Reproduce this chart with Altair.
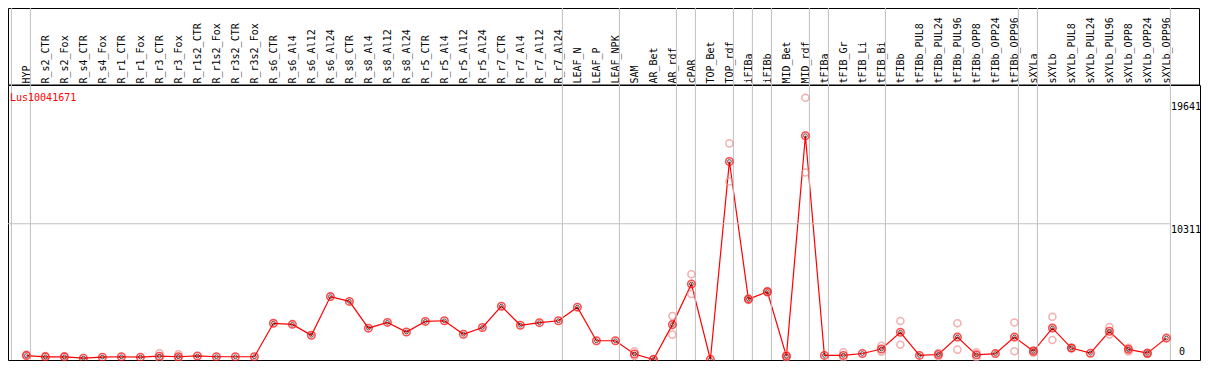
import altair as alt
import pandas as pd

gene = "Lus10041671"

names = ["HYP", "R_s2_CTR", "R_s2_Fox", "R_s4_CTR", "R_s4_Fox", "R_r1_CTR", "R_r1_Fox",
         "R_r3_CTR", "R_r3_Fox", "R_r1s2_CTR", "R_r1s2_Fox", "R_r3s2_CTR", "R_r3s2_Fox",
         "R_s6_CTR", "R_s6_Al4", "R_s6_Al12", "R_s6_Al24", "R_s8_CTR", "R_s8_Al4",
         "R_s8_Al12", "R_s8_Al24", "R_r5_CTR", "R_r5_Al4", "R_r5_Al12", "R_r5_Al24",
         "R_r7_CTR", "R_r7_Al4", "R_r7_Al12", "R_r7_Al24", "LEAF_N", "LEAF_P", "LEAF_NPK",
         "SAM", "AR_Bet", "AR_rdf", "cPAR", "TOP_Bet", "TOP_rdf", "iFIBa", "iFIBb",
         "MID_Bet", "MID_rdf", "tFIBa", "tFIB_Gr", "tFIB_Li", "tFIB_Bi", "tFIBb",
         "tFIBb_PUL8", "tFIBb_PUL24", "tFIBb_PUL96", "tFIBb_OPP8", "tFIBb_OPP24",
         "tFIBb_OPP96", "sXYLa", "sXYLb", "sXYLb_PUL8", "sXYLb_PUL24", "sXYLb_PUL96",
         "sXYLb_OPP8", "sXYLb_OPP24", "sXYLb_OPP96"]

means = [300, 200, 200, 100, 180, 210, 180, 250, 210, 270, 210, 210, 210,
         2750, 2670, 1840, 4780, 4415, 2380, 2820, 2090,
         2895, 2945, 1920, 2430, 4050, 2600, 2800, 2945,
         3975, 1425, 1425,
         420, 0, 2650, 5740, 0,
         15040, 4585, 5150, 250, 17000,
         310, 310, 455, 795, 2070,
         310, 380, 1705, 355, 450, 1705,
         625, 2390, 870, 480, 2145, 770, 480, 1625]

rep_idx = [0, 1, 2, 7, 7, 8, 8, 32, 32, 33, 34, 34, 35, 35, 37, 37, 38, 38, 39, 39,
           40, 40, 41, 41, 43, 43, 45, 45, 46, 46, 48, 48, 49, 49, 50, 50, 52, 52,
           53, 53, 54, 54, 55, 55, 57, 57, 58, 58, 59, 59]
rep_val = [380, 260, 240, 470, 100, 400, 120, 625, 260, 30, 3310, 1890, 6470, 4975,
           16415, 13525, 4650, 4520, 5200, 5100, 350, 150, 19880, 14210, 550, 150,
           1045, 600, 2930, 1120, 500, 250, 2760, 750, 540, 170, 2810, 625, 700, 520,
           3245, 1485, 850, 900, 2465, 1900, 620, 900, 520, 420]

group_starts = [0, 1, 29, 32, 35, 36, 38, 39, 40, 42, 43, 46, 53, 54, 61]
sep_offset = 0.7895

y_ticks = [19641, 10311, 0]
grid_val = [10311]

W = 1192
H = 275
HEADER = 77
xmin = -0.96842
xmax = 61.76842
ymin = -37
ymax = 20850
mono = "DejaVu Sans Mono"

xs = alt.Scale(domain=[xmin, xmax], nice=False, zero=False)
ys = alt.Scale(domain=[ymin, ymax], nice=False, zero=False)

df = pd.DataFrame({"i": list(range(len(names))), "name": names, "v": means})
reps = pd.DataFrame({"i": rep_idx, "v": rep_val})
seps = pd.DataFrame({"i": [k - sep_offset for k in group_starts]})
grid = pd.DataFrame({"v": grid_val, "i": [xmin], "b": [group_starts[-1] - sep_offset]})
ylab = pd.DataFrame({"v": y_ticks, "t": [str(t) for t in y_ticks]})
ttl = pd.DataFrame({"t": [gene]})

label_expr = "[" + ",".join("'" + n + "'" for n in names) + "][datum.value]"

xaxis = alt.Axis(orient="top", values=list(range(len(names))), labelExpr=label_expr,
                 labelAngle=270, labelFont=mono, labelFontSize=10, labelColor="black",
                 labelPadding=2, ticks=False, domain=False, grid=False, title=None,
                 labelOverlap=False, labelFlush=False, labelBound=False)


def X(field="i:Q"):
    return alt.X(field, scale=xs, axis=xaxis)


def Y(field="v:Q"):
    return alt.Y(field, scale=ys, axis=None)


frame = alt.Chart(ttl).mark_rect(fillOpacity=0, stroke="black", strokeWidth=1).encode(
    x=alt.value(0.5), x2=alt.value(W - 0.5), y=alt.value(-HEADER + 0.5), y2=alt.value(0)
)

sep_rules = alt.Chart(seps).mark_rule(color="#c0c0c0", strokeWidth=1).encode(
    x=X(), y=alt.value(-HEADER), y2=alt.value(H)
)

grid_rule = alt.Chart(grid).mark_rule(color="#c0c0c0", strokeWidth=1).encode(
    x=X(), x2="b:Q", y=Y()
)

line = alt.Chart(df).mark_line(color="#ff0000", strokeWidth=1.2).encode(x=X(), y=Y())

rep_pts = alt.Chart(reps).mark_point(shape="circle", size=50, color="#ee8f8f",
                                     strokeWidth=1.5, filled=False).encode(x=X(), y=Y())

mean_outer = alt.Chart(df).mark_point(shape="circle", size=55, color="#ff0000",
                                      strokeWidth=1.6, filled=False).encode(x=X(), y=Y())

mean_inner = alt.Chart(df).mark_point(shape="circle", size=14, color="#000000",
                                      strokeWidth=1, filled=False).encode(x=X(), y=Y())

ylabels_top = alt.Chart(ylab[ylab.v > 0]).mark_text(
    align="left", baseline="top", dy=1, font=mono, fontSize=10, color="black"
).encode(x=alt.value(1163), y=Y(), text="t:N")

ylabels_zero = alt.Chart(ylab[ylab.v == 0]).mark_text(
    align="left", baseline="bottom", dy=-3, font=mono, fontSize=10, color="black"
).encode(x=alt.value(1171), y=Y(), text="t:N")

title = alt.Chart(ttl).mark_text(
    align="left", baseline="top", font=mono, fontSize=10, color="#ff0000"
).encode(x=alt.value(2), y=alt.value(8), text="t:N")

chart = alt.layer(
    line, frame, sep_rules, grid_rule, rep_pts, mean_outer, mean_inner,
    ylabels_top, ylabels_zero, title
).properties(
    width=W, height=H,
    padding={"left": 0, "top": HEADER, "right": 1, "bottom": 1},
    autosize=alt.AutoSizeParams(type="none"),
    background="white"
).configure_view(stroke="black", strokeWidth=1)

chart.save("out.html", embed_options={"renderer": "svg", "actions": False})
